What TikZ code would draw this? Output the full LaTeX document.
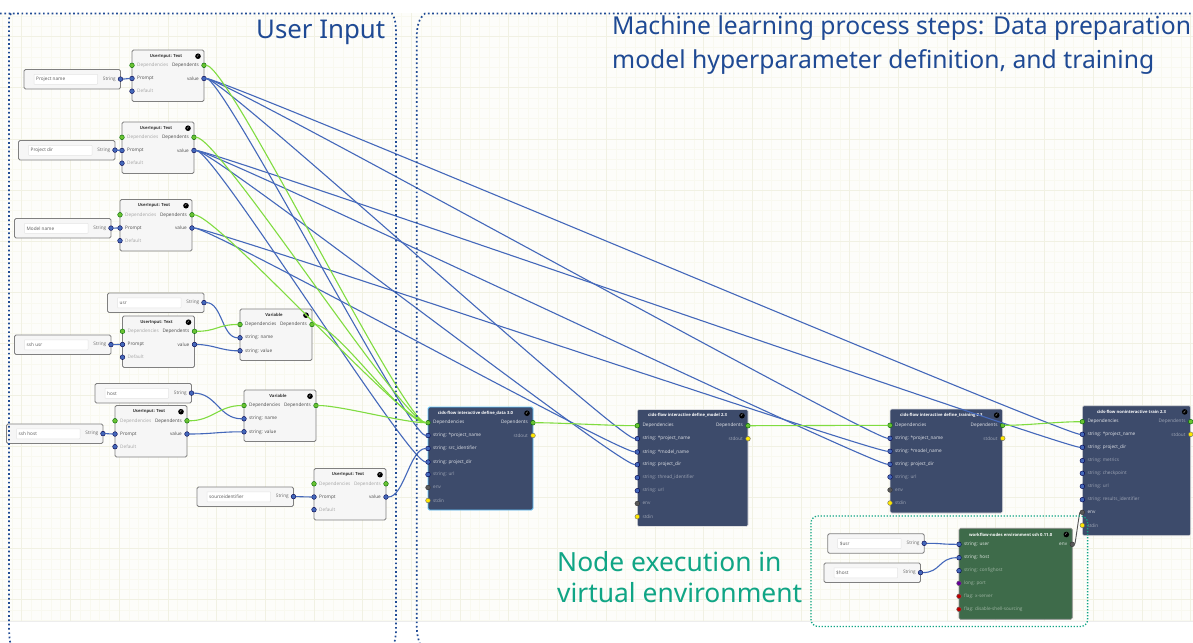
\documentclass[tikz,border=0pt]{standalone}
\usepackage{fontspec}
\setmainfont{Open Sans}
\newfontfamily\headfont{Noto Sans}
\newfontfamily\symfont{DejaVu Sans}
\definecolor{bgc}{HTML}{FDFDFA}
\definecolor{gridminor}{HTML}{F9F9F0}
\definecolor{gridmajor}{HTML}{F1F1E3}
\definecolor{navyc}{HTML}{1F4A94}
\definecolor{tealc}{HTML}{10A585}
\definecolor{wireblue}{HTML}{4468BA}
\definecolor{wiregreen}{HTML}{80DC40}
\definecolor{wiregray}{HTML}{555555}
\definecolor{darknode}{HTML}{3D4B6B}
\definecolor{greennode}{HTML}{3E6B4A}
\definecolor{lightnode}{HTML}{F6F6F6}
\tikzset{
  tinyfont/.style={font=\fontsize{4.7}{5}\selectfont},
  basebox/.style={anchor=north west,inner sep=0pt,outer sep=0pt,rounded corners=1.5pt,line width=.9pt},
  lightbox/.style={basebox,draw=black!50,fill=lightnode},
  darkbox/.style={basebox,draw=black!12,fill=darknode,line width=.6pt},
  selbox/.style={basebox,draw=blue!35!cyan!60,fill=darknode,line width=.8pt},
  sshbox/.style={basebox,draw=black!45,fill=greennode,line width=.7pt},
  inbox/.style={anchor=north west,inner sep=0pt,outer sep=0pt,draw=black!10,fill=white,rounded corners=.5pt,line width=.5pt},
  okmark/.style={circle,fill=black,text=white,inner sep=0pt,minimum size=5.6pt,font=\symfont\fontsize{3.8}{4}\selectfont},
  pinbase/.style={circle,inner sep=0pt,outer sep=0pt,minimum size=4.7pt,line width=.4pt},
  pgreen/.style={pinbase,fill=green!50!lime!70!black!80,draw=green!40!black},
  pblue/.style={pinbase,fill=wireblue,draw=blue!30!black},
  pgray/.style={pinbase,fill=black!65,draw=black!80},
  pyellow/.style={pinbase,fill=yellow!90!orange,draw=black!60},
  pred/.style={pinbase,fill=red!75!black,draw=black!60},
  ppurple/.style={pinbase,fill=violet!80!blue,draw=black!60},
  lab/.style={tinyfont,inner sep=0pt},
  ttl/.style={font=\fontsize{4.2}{5}\selectfont\bfseries,inner sep=0pt},
  wireb/.style={draw=wireblue,line width=1.1pt},
  wireg/.style={draw=wiregreen,line width=1.1pt},
  wirek/.style={draw=wiregray,line width=.9pt},
  framenavy/.style={draw=navyc,line width=1.7pt,dash pattern=on 1.7pt off 2.6pt},
  frameteal/.style={draw=tealc,line width=1.3pt,dash pattern=on 1.3pt off 1.7pt,rounded corners=7pt},
  headnavy/.style={text=navyc,anchor=base west,inner sep=0pt,font=\headfont\fontsize{25.8}{30}\selectfont},
  headwide/.style={text=navyc,anchor=base west,inner sep=0pt,font=\headfont\fontsize{24.7}{30}\selectfont},
  headteal/.style={text=tealc,anchor=base west,inner sep=0pt,font=\headfont\fontsize{26.4}{30}\selectfont},
}
% box: name, x, y, w, h, style, title, title colour, title shift
\newcommand{\flowbox}[9]{%
  \node[#6,minimum width=#4pt,minimum height=#5pt] (#1) at (#2,#3) {};
  \node[ttl,text=#8] (#1-t) at ({#2+#4/2-#9},{#3+6.2}) {#7};
  \node[okmark] (#1-k) at ({#2+#4-6},{#3+6.2}) {✓};
}
% left pin: name,x,y,pin style,text colour,text
\newcommand{\pinL}[6]{%
  \node[#4] (#1) at (#2,#3) {};
  \node[lab,text=#5,anchor=west] (#1-l) at ({#2+5},#3) {#6};
}
\newcommand{\pinR}[6]{%
  \node[#4] (#1) at (#2,#3) {};
  \node[lab,text=#5,anchor=east] (#1-l) at ({#2-5},#3) {#6};
}
% input node: name,x,y,w,text
\newcommand{\inputnode}[5]{%
  \node[lightbox,minimum width=#4pt,minimum height=19.5pt] (#1) at (#2,#3) {};
  \node[inbox,minimum width=#4pt-33pt,minimum height=10pt] (#1-f) at ({#2+10},{#3+4.8}) {};
  \node[lab,text=black!65,anchor=west] (#1-x) at ({#2+12},{#3+9.8}) {#5};
  \node[lab,text=black!60,anchor=east] (#1-s) at ({#2+#4-4.5},{#3+9.6}) {String};
  \node[pblue] (#1-p) at ({#2+#4},{#3+9.6}) {};
}
% UserInput: Text node
\newcommand{\uinode}[4]{% name,x,y,depR colour
  \flowbox{#1}{#2}{#3}{72}{51.5}{lightbox}{UserInput: Text}{black!80}{2}
  \pinL{#1-d}{#2}{#3+15.3}{pgreen}{black!35}{Dependencies}
  \pinL{#1-i}{#2}{#3+28.5}{pblue}{black!70}{Prompt}
  \pinL{#1-e}{#2}{#3+41.2}{pblue}{black!35}{Default}
  \pinR{#1-o}{#2+72}{#3+15.3}{pgreen}{#4}{Dependents}
  \pinR{#1-v}{#2+72}{#3+28.5}{pblue}{black!70}{value}
}
\newcommand{\varnode}[3]{%
  \flowbox{#1}{#2}{#3}{72}{51.5}{lightbox}{Variable}{black!80}{2}
  \pinL{#1-d}{#2}{#3+15.5}{pgreen}{black!70}{Dependencies}
  \pinL{#1-n}{#2}{#3+28.8}{pblue}{black!70}{string: name}
  \pinL{#1-v}{#2}{#3+41.8}{pblue}{black!70}{string: value}
  \pinR{#1-o}{#2+72}{#3+15.5}{pgreen}{black!70}{Dependents}
}
% wires
\newcommand{\wire}[4][20]{\draw[#2] (#3) .. controls +(#1,0) and +(-#1,0) .. (#4);}
\colorlet{dimw}{white!50!darknode}
\colorlet{onw}{white!85!darknode}
\begin{document}
\begin{tikzpicture}[x=1pt,y=-1pt]
\useasboundingbox (0,0) rectangle (1193,642);
\clip (0,0) rectangle (1193,642);
% canvas
\fill[bgc] (0,13) rectangle (1193,621);
\fill[black!7] (0,621) rectangle (1193,622.2);
\foreach \k in {0,...,122} \draw[gridminor,line width=.4pt] ({2.2+9.74*\k},13) -- ({2.2+9.74*\k},621);
\foreach \k in {0,...,59} \draw[gridminor,line width=.4pt] (0,{16+10.24*\k}) -- (1193,{16+10.24*\k});
\foreach \k in {0,...,24} \draw[gridmajor,line width=.5pt] ({21.7+48.7*\k},13) -- ({21.7+48.7*\k},621);
\foreach \k in {0,...,11} \draw[gridmajor,line width=.5pt] (0,{36.5+51.2*\k}) -- (1193,{36.5+51.2*\k});

% light nodes
\uinode{uia}{132}{50}{black!70}
\uinode{uib}{122}{122}{black!70}
\uinode{uic}{120}{199.5}{black!70}
\uinode{uid}{122.5}{316}{black!70}
\uinode{uie}{115}{405.5}{black!70}
\uinode{uif}{314}{468.5}{black!35}
\varnode{vara}{240}{309}
\varnode{varb}{244}{390}
\inputnode{ina}{24}{69.5}{96.5}{Project name}
\inputnode{inb}{18.5}{140.5}{96.5}{Project dir}
\inputnode{inc}{14.5}{218.5}{96.5}{Model name}
\inputnode{ind}{107.5}{293}{96.5}{usr}
\inputnode{ine}{14.5}{335}{96.5}{ssh usr}
\inputnode{inf}{95}{383.5}{96.5}{host}
\inputnode{ing}{6.5}{424}{96.5}{ssh host}
\inputnode{inh}{197}{487}{96.5}{sourceidentifier}
\inputnode{ini}{827.7}{533.7}{96.5}{\$usr}
\inputnode{inj}{824}{563}{96.5}{\$host}

% define_data
\flowbox{data}{428}{407}{105}{103}{selbox}{cids-flow interactive define\_data 3.0}{white}{5}
\pinL{data-d}{428}{422.7}{pgreen}{onw}{Dependencies}
\pinL{data-p}{428}{435.5}{pblue}{onw}{string: *project\_name}
\pinL{data-s}{428}{448.5}{pblue}{onw}{string: src\_identifier}
\pinL{data-r}{428}{462}{pblue}{onw}{string: project\_dir}
\pinL{data-u}{428}{474.5}{pblue}{dimw}{string: url}
\pinL{data-v}{428}{487.5}{pgray}{dimw}{env}
\pinL{data-i}{428}{500.5}{pyellow}{dimw}{stdin}
\pinR{data-o}{533}{422.7}{pgreen}{onw}{Dependents}
\pinR{data-e}{533}{435.5}{pyellow}{dimw}{stdout}

% define_model
\flowbox{model}{637.3}{409.5}{110.7}{117}{darkbox}{cids-flow interactive define\_model 2.3}{white}{5}
\pinL{model-d}{637.3}{425.7}{pgreen}{onw}{Dependencies}
\pinL{model-p}{637.3}{438.7}{pblue}{onw}{string: *project\_name}
\pinL{model-m}{637.3}{452}{pblue}{onw}{string: *model\_name}
\pinL{model-r}{637.3}{464.7}{pblue}{onw}{string: project\_dir}
\pinL{model-h}{637.3}{477.7}{pblue}{dimw}{string: thread\_identifier}
\pinL{model-u}{637.3}{490.7}{pblue}{dimw}{string: url}
\pinL{model-v}{637.3}{503.5}{pgray}{dimw}{env}
\pinL{model-i}{637.3}{516.7}{pyellow}{dimw}{stdin}
\pinR{model-o}{748}{425.7}{pgreen}{onw}{Dependents}
\pinR{model-e}{748}{438.7}{pyellow}{dimw}{stdout}

% define_training
\flowbox{trn}{890}{409}{112.7}{104}{darkbox}{cids-flow interactive define\_training 2.3}{white}{5}
\pinL{trn-d}{890}{425.3}{pgreen}{onw}{Dependencies}
\pinL{trn-p}{890}{438.3}{pblue}{onw}{string: *project\_name}
\pinL{trn-m}{890}{451.3}{pblue}{onw}{string: *model\_name}
\pinL{trn-r}{890}{464.3}{pblue}{onw}{string: project\_dir}
\pinL{trn-u}{890}{477}{pblue}{dimw}{string: url}
\pinL{trn-v}{890}{490}{pgray}{dimw}{env}
\pinL{trn-i}{890}{503}{pyellow}{dimw}{stdin}
\pinR{trn-o}{1002.7}{425.3}{pgreen}{onw}{Dependents}
\pinR{trn-e}{1002.7}{438.3}{pyellow}{dimw}{stdout}

% train
\flowbox{tra}{1082.3}{405.7}{108.4}{130}{darkbox}{cids-flow noninteractive train 2.3}{white}{5}
\pinL{tra-d}{1082.3}{421.7}{pgreen}{onw}{Dependencies}
\pinL{tra-p}{1082.3}{434.3}{pblue}{onw}{string: *project\_name}
\pinL{tra-r}{1082.3}{447.3}{pblue}{onw}{string: project\_dir}
\pinL{tra-c}{1082.3}{460.7}{pblue}{dimw}{string: metrics}
\pinL{tra-k}{1082.3}{473.3}{pblue}{dimw}{string: checkpoint}
\pinL{tra-u}{1082.3}{486.3}{pblue}{dimw}{string: url}
\pinL{tra-s}{1082.3}{499.7}{pblue}{dimw}{string: results\_identifier}
\pinL{tra-v}{1082.3}{512.3}{pgray}{onw}{env}
\pinL{tra-i}{1082.3}{525.3}{pyellow}{dimw}{stdin}
\pinR{tra-o}{1190.7}{421.7}{pgreen}{dimw}{Dependents}
\pinR{tra-e}{1190.7}{434.3}{pyellow}{dimw}{stdout}

% ssh environment
\colorlet{dimg}{white!50!greennode}
\colorlet{ong}{white!85!greennode}
\flowbox{ssh}{959}{528.3}{113.3}{91}{sshbox}{workflow-nodes environment ssh 0.11.0}{white}{5}
\pinL{ssh-u}{959}{544.3}{pblue}{ong}{string: user}
\pinL{ssh-h}{959}{557.7}{pblue}{ong}{string: host}
\pinL{ssh-c}{959}{570.7}{pblue}{dimg}{string: confighost}
\pinL{ssh-p}{959}{583.3}{ppurple}{dimg}{long: port}
\pinL{ssh-x}{959}{596.3}{pred}{dimg}{flag: x-server}
\pinL{ssh-f}{959}{609.3}{pred}{dimg}{flag: disable-shell-sourcing}
\pinR{ssh-o}{1072.3}{544.3}{pgray}{ong}{env}

% wires: inputs
\wire[6]{wireb}{ina-p}{uia-i}
\wire[6]{wireb}{inb-p}{uib-i}
\wire[6]{wireb}{inc-p}{uic-i}
\wire[6]{wireb}{ine-p}{uid-i}
\wire[6]{wireb}{ing-p}{uie-i}
\wire[10]{wireb}{inh-p}{uif-i}
\wire[18]{wireb}{ind-p}{vara-n}
\wire[18]{wireb}{uid-v}{vara-v}
\wire[22]{wireg}{uid-o}{vara-d}
\wire[25]{wireb}{inf-p}{varb-n}
\wire[25]{wireb}{uie-v}{varb-v}
\wire[25]{wireg}{uie-o}{varb-d}
% wires: values
\wire{wireb}{uia-v}{data-p}
\wire{wireb}{uia-v}{model-p}
\wire{wireb}{uia-v}{trn-p}
\wire{wireb}{uia-v}{tra-p}
\wire{wireb}{uib-v}{data-r}
\wire{wireb}{uib-v}{model-r}
\wire{wireb}{uib-v}{trn-r}
\wire{wireb}{uib-v}{tra-r}
\wire{wireb}{uic-v}{model-m}
\wire{wireb}{uic-v}{trn-m}
\wire[18]{wireb}{uif-v}{data-s}
\wire[3]{wirek}{ssh-o}{tra-v}
\wire[20]{wireb}{ini-p}{ssh-u}
\wire[20]{wireb}{inj-p}{ssh-h}
% wires: dependencies
\wire[25]{wireg}{uia-o}{data-d}
\wire[25]{wireg}{uib-o}{data-d}
\wire[25]{wireg}{uic-o}{data-d}
\wire[25]{wireg}{vara-o}{data-d}
\wire[25]{wireg}{varb-o}{data-d}
\wire[25]{wireg}{data-o}{model-d}
\wire[25]{wireg}{model-o}{trn-d}
\wire[25]{wireg}{trn-o}{tra-d}

% frames
\draw[framenavy] (0,13.5) -- (392,13.5) .. controls (395,18) and (396,24) .. (396,34) -- (396,630) .. controls (396,636) and (395,640) .. (394,644);
\draw[framenavy] (1195,13.5) -- (425,13.5) .. controls (419,18) and (416.7,26) .. (416.7,38) -- (416.7,625) .. controls (416.7,633) and (418,639) .. (420,644);
\draw[framenavy] (11,13.5) .. controls (9.5,15) and (9,17) .. (9,22) -- (9,625) .. controls (9,635) and (9.5,639) .. (10.5,644);
\draw[frameteal] (811,516) rectangle (1087.6,626.5);

% headings
\node[headnavy] (hua) at (256,39) {User Input};
\node[headwide] (hma) at (612,35) {Machine learning process steps: Data preparation};
\node[headwide] (hmb) at (612,69) {model hyperparameter definition, and training};
\node[headteal] (hna) at (557,571) {Node execution in};
\node[headteal] (hnb) at (557,602) {virtual environment};
\end{tikzpicture}
\end{document}
